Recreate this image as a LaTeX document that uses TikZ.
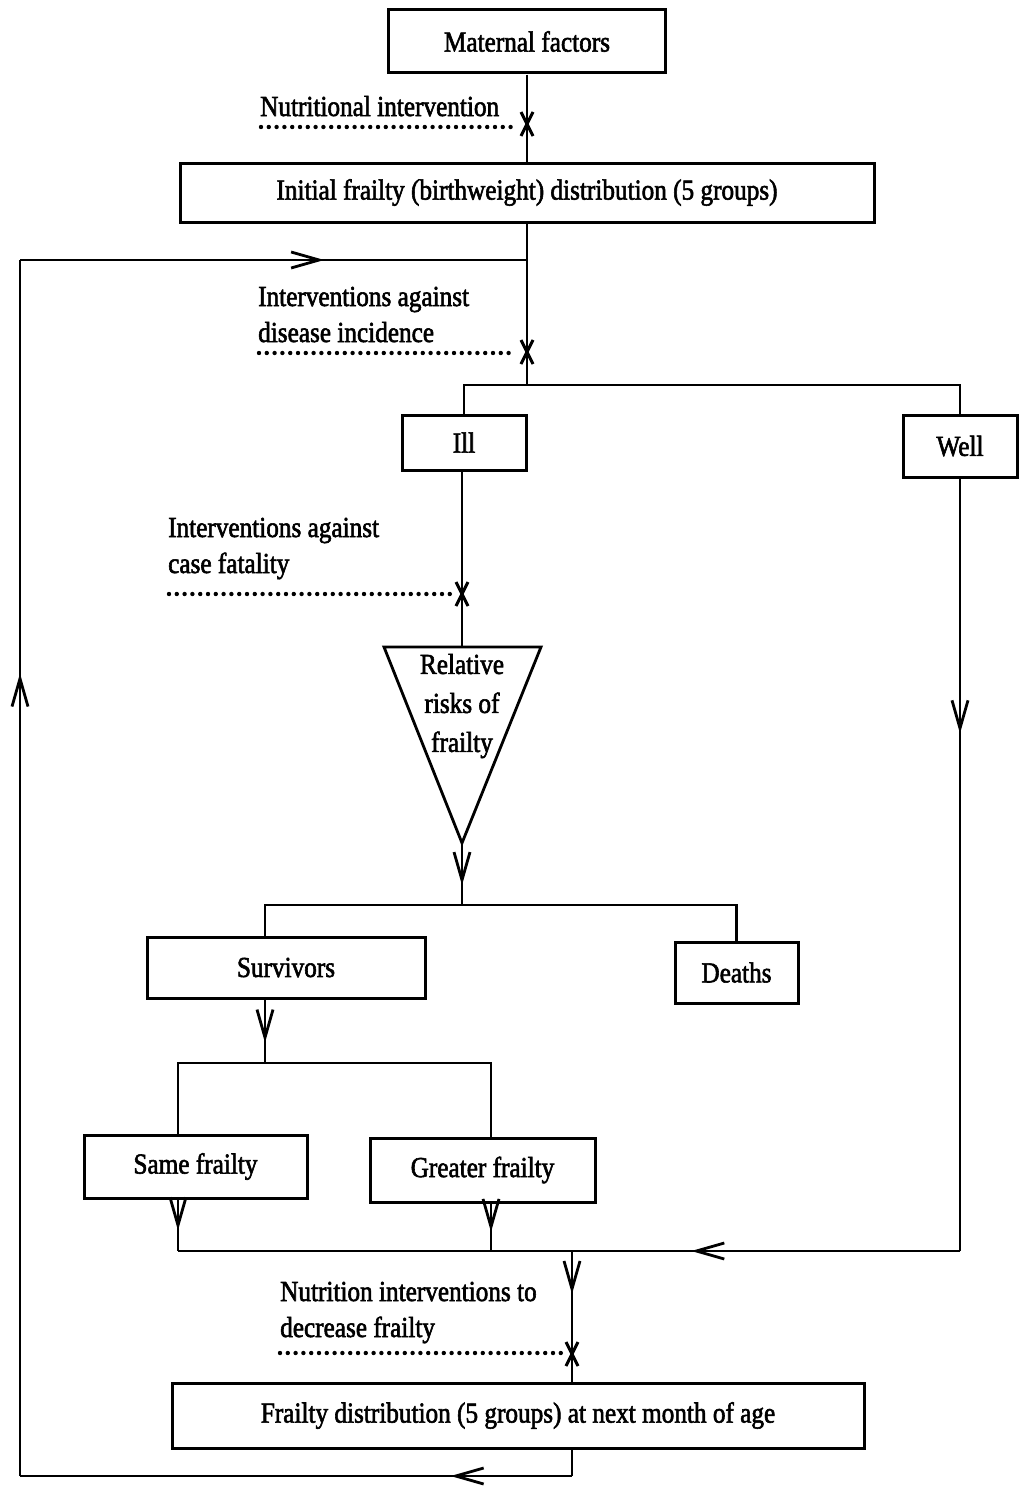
\documentclass[tikz,border=0pt]{standalone}
\usepackage{fontspec}
\setmainfont{Liberation Serif}[FakeStretch=0.87,FakeBold=2]
\usetikzlibrary{arrows.meta,decorations.markings}

\tikzset{
  box/.style={draw, line width=3pt, inner sep=0pt, font=\fontsize{29}{36}\selectfont},
  lbl/.style={inner sep=0pt, align=left, font=\fontsize{29}{36}\selectfont},
  flow/.style={line width=2.8pt},
  dots/.style={line width=4.4pt, line cap=round, dash pattern=on 0pt off 7.8pt},
  barb/.tip={Straight Barb[length=28pt,width=16pt,line width=2.8pt]},
  arrowat/.style={postaction={decorate},
    decoration={markings, mark=at position #1 with {\arrow{barb}}}},
  crossmark/.pic={\draw[line width=3pt] (-6,-12) -- (6,12) (6,-12) -- (-6,12);}
}

\begin{document}
\begin{tikzpicture}[x=1pt,y=-1pt]
\useasboundingbox (0,0) rectangle (1018,1488);

% boxes
\node[box, minimum width=277pt, minimum height=63pt] (mat) at (527,41.5) {Maternal factors};
\node[box, minimum width=694pt, minimum height=59pt] (init) at (527,192.5) {Initial frailty (birthweight) distribution (5 groups)};
\node[box, minimum width=124pt, minimum height=55pt] (ill) at (464,442.5) {Ill};
\node[box, minimum width=114pt, minimum height=62pt] (well) at (960,446) {Well};
\node[box, minimum width=278pt, minimum height=61pt] (surv) at (286,967.5) {Survivors};
\node[box, minimum width=123pt, minimum height=61pt] (dead) at (736.5,972.5) {Deaths};
\node[box, minimum width=223pt, minimum height=63pt] (same) at (195.5,1166.5) {Same frailty};
\node[box, minimum width=225pt, minimum height=64pt] (great) at (482.5,1170) {Greater frailty};
\node[box, minimum width=692pt, minimum height=65pt] (fd) at (518,1415.5) {Frailty distribution (5 groups) at next month of age};

% relative-risk triangle
\coordinate (tl) at (384,647);
\coordinate (tr) at (541,647);
\coordinate (tb) at (462,843);
\coordinate (tt) at (462,647);
\draw[line width=2.8pt, line join=miter] (tl) -- (tr) -- (tb) -- cycle;
\node[lbl, align=center, font=\fontsize{29}{39}\selectfont] (rr) at (462,706) {Relative\\risks of\\frailty};

% junction points and branch columns
\coordinate (topJ) at (527,260);
\coordinate (split) at (527,385);
\coordinate (fork1) at (462,905);
\coordinate (fork2) at (265,1063);
\coordinate (merge) at (572,1251);
\coordinate (loopB) at (572,1476);
\coordinate (loopBL) at (20,1476);
\coordinate (loopTL) at (20,260);
\coordinate (xs) at (178,0);
\coordinate (xg) at (491,0);
\coordinate (xf) at (640,0);

% intervention labels (anchored at the baseline of their last line)
\node[lbl, anchor=base west] (l1) at (260,116) {Nutritional intervention};
\node[lbl, anchor=base west] (l2) at (258,342) {Interventions against\\disease incidence};
\node[lbl, anchor=base west] (l3) at (168,573) {Interventions against\\case fatality};
\node[lbl, anchor=base west] (l4) at (280,1337) {Nutrition interventions to\\decrease frailty};

% main stem
\draw[flow] (mat.south) -- (init.north -| mat.south);
\draw[flow] (init.south -| topJ) -- (split);
\draw[flow] (ill.north) -- (ill.north |- split) -- (split -| well.north) -- (well.north);
\draw[flow] (ill.south -| tt) -- (tt);

% from triangle to outcomes
\draw[flow, arrowat=0.68] (tb) -- (fork1);
\draw[flow] (surv.north -| fork2) -- (fork2 |- fork1) -- (fork1 -| dead.north) -- (dead.north);

% survivors split
\draw[flow, arrowat=0.68] (surv.south -| fork2) -- (fork2);
\draw[flow] (same.north -| xs) -- (fork2 -| xs) -- (fork2 -| xg) -- (great.north -| xg);

% merge to next month
\draw[flow, arrowat=0.6] (same.south -| xs) -- (merge -| xs);
\draw[flow, arrowat=0.6] (great.south -| xg) -- (merge -| xg);
\draw[flow, arrowat=0.33] (well.south) -- (merge -| well.south);
\draw[flow] (merge -| xs) -- (merge -| well.south);
\draw[flow, arrowat=0.84] (merge -| well.south) -- (merge -| xf);
\draw[flow, arrowat=0.33] (merge) -- (fd.north -| merge);

% feedback loop
\draw[flow] (fd.south -| loopB) -- (loopB);
\draw[flow, arrowat=0.22] (loopB) -- (loopBL);
\draw[flow, arrowat=0.66] (loopBL) -- (loopTL);
\draw[flow, arrowat=0.6] (loopTL) -- (topJ);

% dotted intervention lines and cross marks
\draw[dots] (261,127) -- (516,127);
\pic at (527,124) {crossmark};
\draw[dots] (259,353) -- (514,353);
\pic at (527,352) {crossmark};
\draw[dots] (169,594) -- (452,594);
\pic at (462,594) {crossmark};
\draw[dots] (280,1353) -- (562,1353);
\pic at (572,1354) {crossmark};
\end{tikzpicture}
\end{document}
